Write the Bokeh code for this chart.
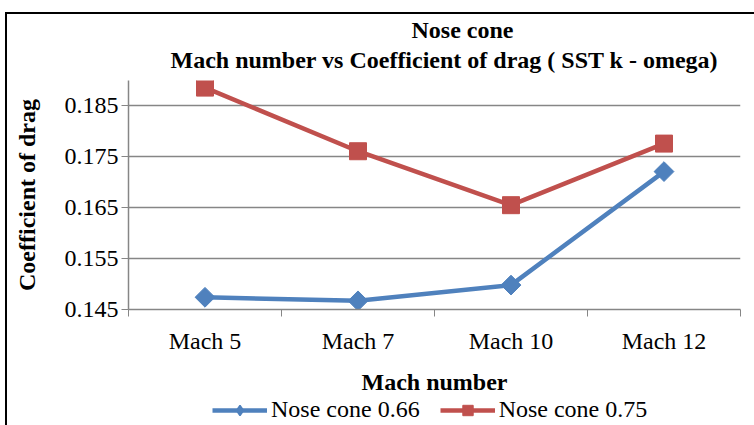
import math
from bokeh.plotting import figure
from bokeh.layouts import column
from bokeh.models import FixedTicker, Title, Legend, LegendItem, Range1d
from bokeh.embed import file_html
from bokeh.resources import INLINE

categories = ["Mach 5", "Mach 7", "Mach 10", "Mach 12"]
cd_nose_066 = [0.1474, 0.1467, 0.1498, 0.1721]
cd_nose_075 = [0.1886, 0.1761, 0.1655, 0.1776]
y_tick_values = [0.145, 0.155, 0.165, 0.175, 0.185]
title_line1 = "Nose cone"
title_line2 = "Mach number vs Coefficient of drag ( SST k - omega)"
series_names = ["Nose cone 0.66", "Nose cone 0.75"]

FONT = "Liberation Serif"
FS = "24px"
BLUE = "#4F81BD"
RED = "#C0504D"
GRAY = "#868686"

xs = [i + 0.5 for i in range(len(categories))]

p = figure(
    frame_width=612, frame_height=229,
    x_range=Range1d(0, len(categories)), y_range=Range1d(0.145, 0.19),
    output_backend="svg", toolbar_location=None, title=None,
    min_border_left=121, min_border_right=14, min_border_top=66, min_border_bottom=87,
    outline_line_color=None, background_fill_color="white", border_fill_color="white",
)

p.add_layout(Title(text=title_line2, align="left", text_font=FONT, text_font_style="bold",
                   text_font_size=FS, text_color="black", text_line_height=1.0,
                   standoff=16, offset=42), "above")
p.add_layout(Title(text=title_line1, align="left", text_font=FONT, text_font_style="bold",
                   text_font_size=FS, text_color="black", text_line_height=1.0,
                   standoff=-13, offset=283), "above")

# x axis
xa = p.xaxis[0]
xa.ticker = FixedTicker(ticks=xs, minor_ticks=list(range(len(categories) + 1)))
xa.major_label_overrides = {x: c for x, c in zip(xs, categories)}
xa.major_tick_out = 0
xa.major_tick_in = 0
xa.minor_tick_out = 7
xa.minor_tick_in = 0
xa.minor_tick_line_color = GRAY
xa.axis_line_color = GRAY
xa.axis_line_width = 1.5
xa.major_label_standoff = 11
xa.major_label_text_font = FONT
xa.major_label_text_font_size = FS
xa.major_label_text_color = "black"
xa.axis_label = "Mach number"
xa.axis_label_text_font = FONT
xa.axis_label_text_font_style = "bold"
xa.axis_label_text_font_size = FS
xa.axis_label_text_color = "black"
xa.axis_label_standoff = 12

ya = p.yaxis[0]
ya.ticker = FixedTicker(ticks=y_tick_values)
ya.major_label_overrides = {v: f"{v:.3f}" for v in y_tick_values}
ya.major_tick_out = 7
ya.major_tick_in = 0
ya.minor_tick_out = 0
ya.minor_tick_in = 0
ya.major_tick_line_color = GRAY
ya.axis_line_color = GRAY
ya.axis_line_width = 1.5
ya.major_label_standoff = 3
ya.major_label_text_font = FONT
ya.major_label_text_font_size = FS
ya.major_label_text_color = "black"
ya.axis_label = "Coefficient of drag"
ya.axis_label_text_font = FONT
ya.axis_label_text_font_style = "bold"
ya.axis_label_text_font_size = FS
ya.axis_label_text_color = "black"
ya.axis_label_standoff = 22

p.xgrid.visible = False
p.ygrid.ticker = FixedTicker(ticks=y_tick_values)
p.ygrid.grid_line_color = GRAY
p.ygrid.grid_line_width = 1.5

p.line(xs, cd_nose_066, line_color=BLUE, line_width=4.5)
p.scatter(xs, cd_nose_066, marker="square", angle=math.pi / 4, size=14,
          fill_color=BLUE, line_color=BLUE)
p.line(xs, cd_nose_075, line_color=RED, line_width=4.5)
p.scatter(xs, cd_nose_075, marker="square", size=17, fill_color=RED, line_color=RED)

# legend strip below the chart (hidden copies of the series supply the legend glyphs)
lg = figure(
    width=747, height=28, x_range=Range1d(0, 1), y_range=Range1d(0, 1),
    output_backend="svg", toolbar_location=None, title=None,
    x_axis_location=None, y_axis_location=None,
    min_border_left=0, min_border_right=0, min_border_top=0, min_border_bottom=0,
    outline_line_color=None, background_fill_color="white", border_fill_color="white",
)
lg.xgrid.visible = False
lg.ygrid.visible = False
kl1 = lg.line(xs, cd_nose_066, line_color=BLUE, line_width=4.5, visible=False)
km1 = lg.scatter(xs, cd_nose_066, marker="diamond",
                 fill_color=BLUE, line_color=BLUE, line_width=1.5, visible=False)
kl2 = lg.line(xs, cd_nose_075, line_color=RED, line_width=4.5, visible=False)
km2 = lg.scatter(xs, cd_nose_075, marker="square", fill_color=RED, line_color=RED, visible=False)

legend = Legend(
    items=[LegendItem(label=series_names[0], renderers=[kl1, km1]),
           LegendItem(label=series_names[1], renderers=[kl2, km2])],
    orientation="horizontal", location=(84, 2), click_policy="none",
    border_line_color=None, background_fill_alpha=0, inactive_fill_alpha=0,
    label_text_font=FONT, label_text_font_size=FS, label_text_color="black",
    label_text_line_height=1.0,
    glyph_width=55, glyph_height=26, spacing=20, padding=0, margin=0, label_standoff=4,
)
lg.add_layout(legend, "center")

layout = column(p, lg, spacing=0)
layout.styles = {"border-left": "2px solid black", "border-top": "2px solid black",
                 "margin-left": "5px", "margin-top": "12px"}

open("out.html", "w").write(file_html(layout, INLINE))
